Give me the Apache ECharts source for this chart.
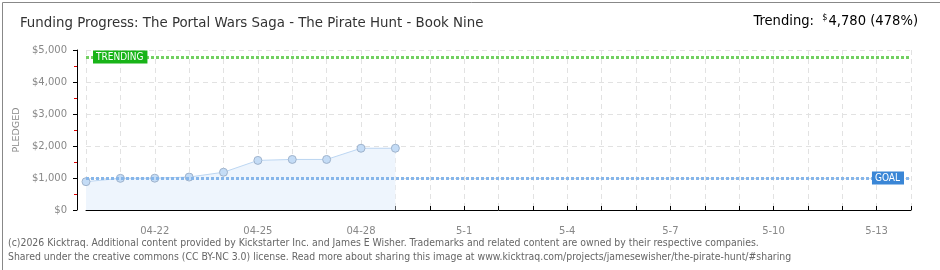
<!DOCTYPE html>
<html><head><meta charset="utf-8">
<script src="https://cdn.jsdelivr.net/npm/echarts@6/dist/echarts.min.js"></script>
<style>html,body{margin:0;padding:0;background:#fff}#c{width:940px;height:270px}</style>
</head><body><div id="c"></div>
<script>
const categories = ['04-20','04-21','04-22','04-23','04-24','04-25','04-26','04-27','04-28','04-29','04-30',
  '5-1','5-2','5-3','5-4','5-5','5-6','5-7','5-8','5-9','5-10','5-11','5-12','5-13','5-14'];
const pledged = [885, 990, 995, 1030, 1180, 1550, 1580, 1580, 1930, 1930];
const goal = 1000;
const trending = 4780;
const yTicks = [0, 1000, 2000, 3000, 4000, 5000];
const titleText = 'Funding Progress: The Portal Wars Saga - The Pirate Hunt - Book Nine';
const footer1 = '(c)2026 Kicktraq. Additional content provided by Kickstarter Inc. and James E Wisher. Trademarks and related content are owned by their respective companies.';
const footer2 = 'Shared under the creative commons (CC BY-NC 3.0) license. Read more about sharing this image at www.kicktraq.com/projects/jamesewisher/the-pirate-hunt/#sharing';

const FONT = '"DejaVu Sans Condensed", "DejaVu Sans", sans-serif';
const SANS = '"DejaVu Sans", sans-serif';
const chart = echarts.init(document.getElementById('c'));
chart.setOption({
  animation: false,
  textStyle: { fontFamily: FONT },
  grid: { left: 86, right: 29, top: 50, bottom: 60 },
  title: {
    text: titleText, left: 20, top: 16, padding: 0,
    textStyle: { fontSize: 14.85, fontWeight: 'normal', color: '#333', fontFamily: FONT }
  },
  graphic: [
    { type: 'rect', left: 0, top: 0, shape: { width: 939, height: 269 }, style: { fill: 'none', stroke: '#888', lineWidth: 1 }, silent: true },
    { type: 'text', right: 22, top: 13, style: {
        text: '{a|Trending:  }{s|$}{a|4,780 (478%)}',
        rich: { a: { fontSize: 14.6, color: '#333', fontFamily: FONT }, s: { fontSize: 9, color: '#333', verticalAlign: 'top', padding: [0,1,7,0], fontFamily: FONT } }
      } },
    { type: 'text', left: 8, top: 238, style: { text: footer1, fontSize: 10.4, fill: '#666', fontFamily: FONT } },
    { type: 'text', left: 8, top: 252, style: { text: footer2, fontSize: 10.4, fill: '#666', fontFamily: FONT } }
  ],
  xAxis: {
    type: 'category', data: categories, boundaryGap: false, offset: 10,
    axisLine: { lineStyle: { color: '#000', width: 1 } },
    axisTick: { interval: 0, length: 4, inside: true, lineStyle: { color: '#000' } },
    axisLabel: { interval: (i) => (i - 2) % 3 === 0 && i >= 2, color: '#888', fontSize: 10, margin: 6, fontFamily: SANS },
    splitLine: { show: true, interval: 0, lineStyle: { color: '#e2e2e2', type: [5, 4] } }
  },
  yAxis: {
    type: 'value', min: 0, max: 5000, interval: 1000, offset: 9,
    name: 'PLEDGED', nameLocation: 'middle', nameGap: 48, nameRotate: 90,
    nameTextStyle: { color: '#888', fontSize: 9.5, fontFamily: SANS },
    axisLine: { show: true, lineStyle: { color: '#000' } },
    axisTick: { show: true, length: 4, lineStyle: { color: '#000' } },
    minorTick: { show: true, splitNumber: 2, length: 3, lineStyle: { color: '#d00' } },
    axisLabel: { color: '#888', fontSize: 10, margin: 10, fontFamily: SANS,
      formatter: (v) => yTicks.includes(v) ? '$' + v.toLocaleString('en-US') : '' },
    splitLine: { show: true, lineStyle: { color: '#e2e2e2', type: [5, 4] } }
  },
  series: [{
    type: 'line', data: pledged, symbol: 'circle', symbolSize: 8,
    lineStyle: { color: '#bcd6f2', width: 1 },
    itemStyle: { color: '#c4dcf6', borderColor: '#9fb3cc', borderWidth: 1 },
    areaStyle: { color: '#eef5fd', opacity: 1 },
    markLine: {
      silent: true, symbol: 'none',
      data: [
        { yAxis: goal, lineStyle: { color: '#86b6ea', width: 3, type: [3, 2] },
          label: { show: true, position: 'insideEnd', distance: 7, formatter: 'GOAL', color: '#fff', backgroundColor: '#3a86d6', fontSize: 10, padding: [2, 4, 1, 3], fontFamily: FONT } },
        { yAxis: trending, lineStyle: { color: '#72d062', width: 3, type: [3, 2] },
          label: { show: true, position: 'insideStart', distance: 7, formatter: 'TRENDING', color: '#fff', backgroundColor: '#18b418', fontSize: 10, padding: [2, 4, 1, 3], fontFamily: FONT } }
      ]
    }
  }]
});
</script></body></html>
